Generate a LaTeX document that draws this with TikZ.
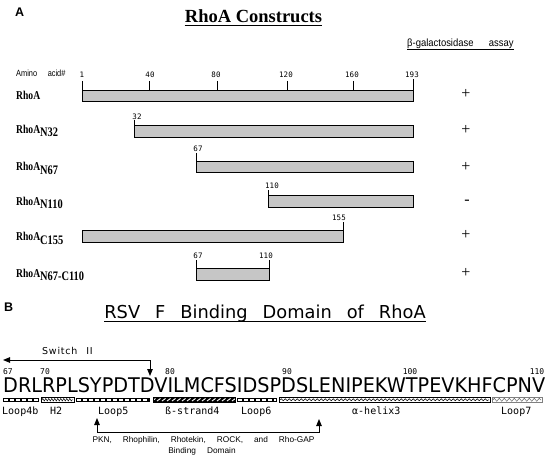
\documentclass[tikz,border=0pt]{standalone}
\usepackage{fontspec}
\usepackage{graphicx}
\usetikzlibrary{arrows.meta,decorations.pathmorphing}
\newfontfamily\lserif{Liberation Serif}
\newfontfamily\lsans{Liberation Sans}
\newfontfamily\dvs{DejaVu Sans}
\newfontfamily\dvsls[LetterSpace=8]{DejaVu Sans}
\newfontfamily\dvm{DejaVu Sans Mono}
\definecolor{barg}{RGB}{198,198,198}
\newcommand\rhoLab[1]{\scalebox{0.8}[1]{\lserif\bfseries\fontsize{12}{13}\selectfont RhoA\raisebox{-3.5pt}{\fontsize{13}{13}\selectfont #1}}}
\begin{document}
\begin{tikzpicture}[x=1pt,y=-1pt,
  bar/.style={draw=black, line width=0.8pt, fill=barg},
  tickl/.style={line width=0.8pt},
  ticknum/.style={font=\dvm\fontsize{7.5}{8}\selectfont, inner sep=0},
  rowlab/.style={anchor=base west, inner sep=0},
  sign/.style={font=\lserif\fontsize{16}{16}\selectfont, inner sep=0},
  seqnum/.style={font=\dvm\fontsize{8}{8}\selectfont, inner sep=0},
  seglab/.style={font=\dvm\fontsize{10}{10}\selectfont, anchor=base west, inner sep=0},
  arr/.style={line width=0.9pt, -{Triangle[length=7pt,width=5.5pt]}},
  panel/.style={font=\lsans\bfseries\fontsize{12.5}{13}\selectfont, anchor=base west, inner sep=0},
  ul/.style={line width=1.2pt}
]
\path[fill=white] (0,0) rectangle (548,457);
\useasboundingbox (0,0) rectangle (548,457);

% ---------------- Panel A ----------------
\node[panel] (pA) at (15,17) {A};
\node[anchor=base, inner sep=0, font=\lserif\bfseries\fontsize{18.5}{20}\selectfont] (titA) at (253.5,22.7) {RhoA Constructs};
\draw[ul] ([yshift=-2.8pt]titA.base west) -- ([yshift=-2.8pt]titA.base east);

\node[anchor=base west, inner sep=0, font=\lsans\fontsize{10.5}{11}\selectfont] (assay) at (407,46.5) {\scalebox{0.9}[1]{β-galactosidase\hspace{17pt}assay}};
\draw[line width=0.8pt] ([yshift=-3pt]assay.base west) -- ([yshift=-3pt]assay.base east);

\node[anchor=base west, inner sep=0, font=\lsans\fontsize{9}{10}\selectfont] (aa) at (16,77) {\scalebox{0.82}[1]{Amino\hspace{13pt}acid\#}};

% axis numbers
\node[ticknum] (n1) at (82,75) {1};
\node[ticknum] (n40) at (150,75) {40};
\node[ticknum] (n80) at (216,75) {80};
\node[ticknum] (n120) at (286,75) {120};
\node[ticknum] (n160) at (352,75) {160};
\node[ticknum] (n193) at (412,75) {193};

% row 1
\draw[bar] (82,90) rectangle (413,101);
\foreach \x in {82,149,217,287,353} \draw[tickl] (\x,81) -- (\x,90);
\draw[tickl] (413,79) -- (413,90);
\node[rowlab] (l1) at (16,100) {\rhoLab{}};
\node[sign] (s1) at (466,94) {+};

% row 2
\draw[bar] (134,125) rectangle (413,137);
\draw[tickl] (134,120) -- (134,125);
\node[ticknum] (t32) at (137,117) {32};
\node[rowlab] (l2) at (16,133.5) {\rhoLab{N32}};
\node[sign] (s2) at (466,130) {+};

% row 3
\draw[bar] (196,161) rectangle (413,172);
\draw[tickl] (196,153) -- (196,161);
\node[ticknum] (t67a) at (198,149) {67};
\node[rowlab] (l3) at (16,171) {\rhoLab{N67}};
\node[sign] (s3) at (466,167) {+};

% row 4
\draw[bar] (268,195) rectangle (413,207);
\draw[tickl] (268,190) -- (268,195);
\node[ticknum] (t110a) at (272,186) {110};
\node[rowlab] (l4) at (16,205) {\rhoLab{N110}};
\node[sign] (s4) at (467,202) {-};

% row 5
\draw[bar] (82,230) rectangle (343,242);
\draw[tickl] (343,222) -- (343,230);
\node[ticknum] (t155) at (339,218) {155};
\node[rowlab] (l5) at (16,240.5) {\rhoLab{C155}};
\node[sign] (s5) at (466,235) {+};

% row 6
\draw[bar] (196,268) rectangle (269,280);
\draw[tickl] (196,260) -- (196,268);
\draw[tickl] (269,260) -- (269,268);
\node[ticknum] (t67b) at (198,256) {67};
\node[ticknum] (t110b) at (266,256) {110};
\node[rowlab] (l6) at (16,277) {\rhoLab{N67-C110}};
\node[sign] (s6) at (466,273) {+};

% ---------------- Panel B ----------------
\node[panel] (pB) at (4,311.7) {B};
\node[anchor=base, inner sep=0, font=\dvs\fontsize{17.8}{20}\selectfont] (titB) at (265,318.5) {\spaceskip=15pt\relax RSV F Binding Domain of RhoA};
\draw[ul] ([yshift=-3pt]titB.base west) -- ([yshift=-3pt]titB.base east);

% switch II
\node[anchor=base west, inner sep=0, font=\dvsls\fontsize{9.5}{10}\selectfont] (sw) at (42,354) {Switch\hspace{9pt}II};
\coordinate (swC) at (150,360);
\coordinate (swL) at (3,360);
\coordinate (swT) at (150,376);
\draw[arr] (swC) -- (swL);
\draw[arr] (swC) -- (swT);

% residue numbers
\node[seqnum] (r67) at (8,372) {67};
\node[seqnum] (r70) at (45,372) {70};
\node[seqnum] (r80) at (170,372) {80};
\node[seqnum] (r90) at (287,372) {90};
\node[seqnum] (r100) at (410,372) {100};
\node[seqnum] (r110) at (537,372) {110};

% sequence
\node[anchor=base west, inner sep=0] (seq) at (3,392) {\resizebox{542pt}{15pt}{\dvs DRLRPLSYPDTDVILMCFSIDSPDSLENIPEKWTPEVKHFCPNV}};

% structure bars
\newcommand\loopbarB[2]{%
  \fill[black] (#1,397.5) rectangle (#2,402);
  \draw[white, line width=2.2pt, dash pattern=on 3.6pt off 2.4pt] ({#1+1.4},399.75) -- ({#2-1},399.75);
}
\loopbarB{3}{39}
\loopbarB{76}{150}
\loopbarB{237}{277}
% H2
\draw[line width=0.7pt, fill=white] (41,397.5) rectangle (74,402);
\draw[line width=0.5pt, decorate, decoration={zigzag, segment length=3pt, amplitude=1.2pt}] (42,399.75) -- (73,399.75);
% strand 4
\begin{scope}
  \clip (153,397.5) rectangle (235,402);
  \fill[black] (153,397.5) rectangle (235,402);
  \foreach \x in {152,157,...,237} \draw[white, line width=0.9pt] (\x,401) -- ({\x+3.5},398.5);
\end{scope}
\draw[line width=0.6pt] (153,397.5) rectangle (235,402);
% helix 3
\draw[line width=0.7pt, fill=white] (279,397.5) rectangle (490,402);
\draw[line width=0.5pt, decorate, decoration={snake, segment length=4pt, amplitude=1pt}] (280,399.75) -- (489,399.75);
% loop 7
\draw[gray, line width=0.7pt, fill=white] (492,397.5) rectangle (542,402);
\draw[gray!80!black, line width=0.5pt, decorate, decoration={zigzag, segment length=5pt, amplitude=1.5pt}] (493,399.75) -- (541,399.75);

% segment labels
\node[seglab] (g1) at (2,414.5) {Loop4b};
\node[seglab] (g2) at (50,414.5) {H2};
\node[seglab] (g3) at (98,414.5) {Loop5};
\node[seglab] (g4) at (165,414.5) {ß-strand4};
\node[seglab] (g5) at (241,414.5) {Loop6};
\node[seglab] (g6) at (352,414.5) {α-helix3};
\node[seglab] (g7) at (501,414.5) {Loop7};

% binding bracket
\coordinate (bL) at (97,418);
\coordinate (bLc) at (97,432);
\coordinate (bRc) at (319,432);
\coordinate (bR) at (319,419);
\draw[line width=0.9pt, {Triangle[length=7pt,width=5.5pt]}-{Triangle[length=7pt,width=5.5pt]}] (bL) -- (bLc) -- (bRc) -- (bR);
\node[anchor=base, inner sep=0, font=\lsans\fontsize{8.3}{10}\selectfont] (bind1) at (203.5,442) {\spaceskip=11pt\relax PKN, Rhophilin, Rhotekin, ROCK, and Rho-GAP};
\node[anchor=base, inner sep=0, font=\lsans\fontsize{8.3}{10}\selectfont] (bind2) at (202,453.5) {\spaceskip=11pt\relax Binding Domain};
\end{tikzpicture}
\end{document}
